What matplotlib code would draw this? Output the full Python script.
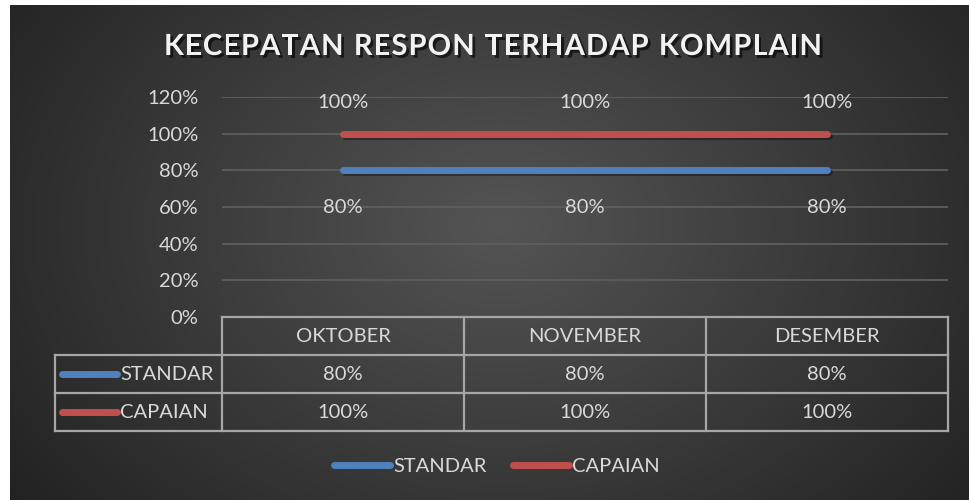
import numpy as np
import matplotlib
matplotlib.use("Agg")
import matplotlib.pyplot as plt
from matplotlib import transforms
from matplotlib.lines import Line2D
import matplotlib.patheffects as pe

# ---- data ----
title = "KECEPATAN RESPON TERHADAP KOMPLAIN"
categories = ["OKTOBER", "NOVEMBER", "DESEMBER"]
standar = [0.80, 0.80, 0.80]
capaian = [1.00, 1.00, 1.00]
series_names = ["STANDAR", "CAPAIAN"]
yticks = [0, 0.2, 0.4, 0.6, 0.8, 1.0, 1.2]

BLUE = "#4F81BD"
RED = "#C0504D"
TXT = "#D9D9D9"
GRID = "#5E5E5E"
TBL = "#A6A6A6"
FONT = ["Lato", "DejaVu Sans"]
plt.rcParams['font.family'] = FONT

W, H = 970, 500
fig = plt.figure(figsize=(W/100, H/100), dpi=100)
fig.patch.set_facecolor("white")

# background with radial gradient
bg = fig.add_axes([10/W, 0, 1 - 10/W, 1 - 5/H])
bg.set_axis_off()
yy, xx = np.mgrid[0:495, 0:960]
cx, cy = 490, 220
r = np.sqrt(((xx - cx)/560.0)**2 + ((yy - cy)/420.0)**2)
val = 0.33 - 0.18*np.clip(r, 0, 1.3)
img = np.dstack([val, val, val])
bg.imshow(np.clip(img, 0, 1), aspect='auto', extent=[0, 1, 0, 1])
bg.set_xlim(0, 1); bg.set_ylim(0, 1)

# main plot area: x 222..948, y 97..317 (pixels from top)
L, R, T, B = 222, 948, 97, 317
ax = fig.add_axes([L/W, 1 - B/H, (R-L)/W, (B-T)/H])
ax.set_facecolor("none")
x = np.arange(len(categories))
ax.set_xlim(-0.5, len(categories) - 0.5)
ax.set_ylim(0, 1.2)
ax.set_yticks(yticks)
ax.set_yticklabels([f"{int(round(v*100))}%" for v in yticks], color=TXT, fontsize=14.5)
ax.tick_params(axis='y', length=0, pad=17)
ax.set_xticks([])
for s in ax.spines.values():
    s.set_visible(False)
ax.grid(axis='y', color=GRID, linewidth=1.3)
ax.set_axisbelow(True)

shadow = [pe.SimpleLineShadow(offset=(1.5, -1.5), alpha=0.35, shadow_color='black'), pe.Normal()]
ax.plot(x, standar, color=BLUE, linewidth=5, solid_capstyle='round', path_effects=shadow, zorder=3)
ax.plot(x, capaian, color=RED, linewidth=5, solid_capstyle='round', path_effects=shadow, zorder=3)

for xi, v in zip(x, capaian):
    ax.annotate(f"{int(round(v*100))}%", (xi, v), xytext=(0, 31), textcoords='offset pixels',
                ha='center', va='center', color=TXT, fontsize=14.5)
for xi, v in zip(x, standar):
    ax.annotate(f"{int(round(v*100))}%", (xi, v), xytext=(0, -37), textcoords='offset pixels',
                ha='center', va='center', color=TXT, fontsize=14.5)

# ---- data table below ----
trans = transforms.blended_transform_factory(ax.transData, ax.transAxes)
ph = B - T
row_px = 38
rows_y = [0, -row_px/ph, -2*row_px/ph, -3*row_px/ph]
colw = (R - L) / len(categories)
left_col = -0.5 - 167/colw
xs = np.arange(-0.5, len(categories), 1.0)
lw_t = 1.6
ax.add_line(Line2D([xs[0], xs[-1]], [rows_y[0]]*2, transform=trans, color=TBL, lw=lw_t, clip_on=False))
for ry in rows_y[1:]:
    ax.add_line(Line2D([left_col, xs[-1]], [ry]*2, transform=trans, color=TBL, lw=lw_t, clip_on=False))
for xv in xs:
    ax.add_line(Line2D([xv, xv], [rows_y[0], rows_y[-1]], transform=trans, color=TBL, lw=lw_t, clip_on=False))
ax.add_line(Line2D([left_col, left_col], [rows_y[1], rows_y[-1]], transform=trans, color=TBL, lw=lw_t, clip_on=False))

for xi, c in zip(x, categories):
    ax.text(xi, (rows_y[0]+rows_y[1])/2, c, transform=trans, ha='center', va='center', color=TXT, fontsize=14.5)
for ri, (vals, name, col) in enumerate([(standar, series_names[0], BLUE), (capaian, series_names[1], RED)]):
    yc = (rows_y[ri+1] + rows_y[ri+2]) / 2
    for xi, v in zip(x, vals):
        ax.text(xi, yc, f"{int(round(v*100))}%", transform=trans, ha='center', va='center', color=TXT, fontsize=14.5)
    key_x0 = left_col + 7/colw
    key_x1 = left_col + 62/colw
    ax.add_line(Line2D([key_x0, key_x1], [yc, yc], transform=trans, color=col, lw=5,
                       solid_capstyle='round', clip_on=False))
    ax.text(key_x1 + 3/colw, yc, name, transform=trans, ha='left', va='center',
            color=TXT, fontsize=14.5)

# ---- legend ----
handles = [Line2D([], [], color=BLUE, lw=5, solid_capstyle='round'),
           Line2D([], [], color=RED, lw=5, solid_capstyle='round')]
leg = fig.legend(handles, series_names, loc='center', bbox_to_anchor=(497/W, 1 - 466/H),
                 ncol=2, frameon=False, fontsize=14.5, handlelength=2.8, handletextpad=0.15,
                 columnspacing=1.3, labelcolor=TXT)

# ---- title with letter spacing ----
renderer = fig.canvas.get_renderer()
title_kw = dict(fontsize=21, fontweight='bold', color='#F2F2F2', va='center', ha='left',
                path_effects=[pe.withSimplePatchShadow(offset=(2, -2), alpha=0.6, shadow_rgbFace='black')])
widths = []
for ch in title:
    t = fig.text(0, 0, ch if ch != " " else "n", **title_kw)
    w = t.get_window_extent(renderer).width
    widths.append(w * (0.5 if ch == " " else 1.0))
    t.remove()
target = 658
spacing = (target - sum(widths)) / (len(title) - 1)
xpos = 493 - target / 2
for ch, w in zip(title, widths):
    if ch != " ":
        fig.text(xpos / W, 1 - 47 / H, ch, **title_kw)
    xpos += w + spacing

fig.savefig("out.png", dpi=100, facecolor=fig.get_facecolor())
